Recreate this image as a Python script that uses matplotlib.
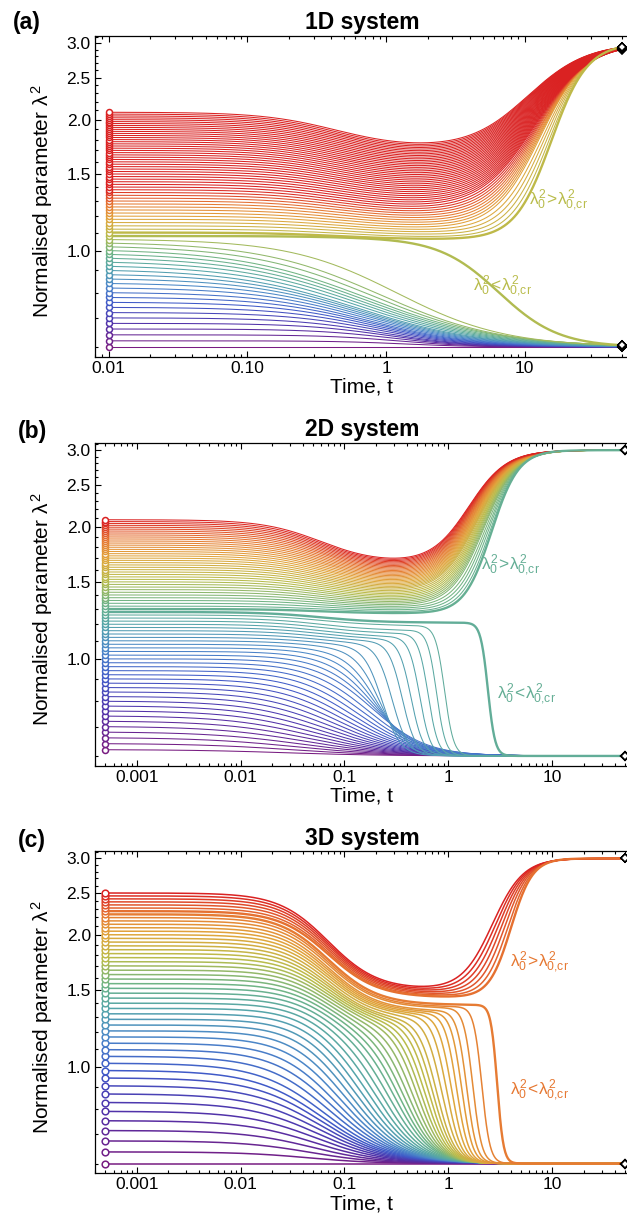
import numpy as np
import matplotlib
matplotlib.use('Agg')
import matplotlib.pyplot as plt
from matplotlib.colors import LinearSegmentedColormap, Normalize
from matplotlib.ticker import FixedLocator, FixedFormatter, NullFormatter

plt.rcParams['font.family'] = ['Liberation Sans', 'DejaVu Sans']
plt.rcParams['mathtext.fontset'] = 'custom'
plt.rcParams['mathtext.rm'] = 'Liberation Sans'
plt.rcParams['mathtext.it'] = 'Liberation Sans'
plt.rcParams['mathtext.bf'] = 'Liberation Sans:bold'

# rainbow colour scale used for the initial values
RAINBOW = ['#781c81', '#5032aa', '#405ac8', '#4b87c8', '#55a5aa', '#6eb487',
           '#b9bc4b', '#e1a53c', '#e67832', '#da2222']
RAINBOW_POS = [0.0, 0.1, 0.2, 0.3, 0.4, 0.5, 0.62, 0.75, 0.87, 1.0]
cmap = LinearSegmentedColormap.from_list('rb', list(zip(RAINBOW_POS, RAINBOW)))

T_END = 50.0
Y_HIGH = 3.0   # upper attractor
Y_LOW = 0.6    # lower attractor

# ---------------- (a) 1D system ----------------
T0_A = 0.01
Y0_A = [0.60, 0.62, 0.64, 0.66, 0.68, 0.70, 0.72, 0.74, 0.76, 0.78,
        0.80, 0.82, 0.84, 0.86, 0.88, 0.90, 0.92, 0.94, 0.96, 0.98,
        1.00, 1.02, 1.04, 1.06, 1.08, 1.10, 1.12, 1.14, 1.16, 1.18,
        1.20, 1.22, 1.24, 1.26, 1.28, 1.30, 1.32, 1.34, 1.36, 1.38,
        1.40, 1.42, 1.44, 1.46, 1.48, 1.50, 1.52, 1.54, 1.56, 1.58,
        1.60, 1.62, 1.64, 1.66, 1.68, 1.70, 1.72, 1.74, 1.76, 1.78,
        1.80, 1.82, 1.84, 1.86, 1.88, 1.90, 1.92, 1.94, 1.96, 1.98,
        2.00, 2.02, 2.04, 2.06, 2.08]
YCR_A = 1.09
CRANGE_A = (0.60, 1.39)
DIP_A = (0.45, 0.62)           # time and width of the early sag
UP_A_Y0 = [1.10, 1.20, 1.40, 2.08]
UP_A_YMID = [1.06, 1.12, 1.25, 1.71]
UP_A_TB = [15.5, 13.0, 11.8, 10.5]
UP_A_WB = [0.30, 0.38, 0.45, 0.49]
LO_A_Y0 = [0.60, 0.70, 0.80, 0.90, 1.00, 1.04, 1.06, 1.08]
LO_A_YMID = [0.60, 0.70, 0.80, 0.90, 1.00, 1.04, 1.06, 1.07]
LO_A_TB = [1.5, 0.9, 0.7, 0.62, 0.73, 0.9, 1.2, 6.5]
LO_A_WB = [0.55, 0.74, 0.9, 1.03, 1.08, 1.0, 0.9, 0.5]

# ---------------- (b) 2D system ----------------
T0_B = 5e-4
Y0_B = Y0_A[1:]
YCR_B = 1.29
CRANGE_B = (0.62, 2.08)
DIP_B = (0.06, 0.65)
UP_B_Y0 = [1.30, 1.40, 1.60, 2.08]
UP_B_YMID = [1.27, 1.32, 1.42, 1.65]
UP_B_TB = [2.6, 2.2, 1.9, 1.57]
UP_B_WB = [0.30, 0.36, 0.40, 0.42]
LO_B_Y0 = [0.62, 0.80, 1.00, 1.08, 1.12, 1.16, 1.20, 1.24, 1.26, 1.28]
LO_B_YMID = [0.62, 0.80, 0.97, 1.03, 1.06, 1.09, 1.12, 1.16, 1.19, 1.21]
LO_B_TB = [0.028, 0.067, 0.19, 0.21, 0.23, 0.36, 0.53, 0.77, 0.92, 2.4]
LO_B_WB = [1.1, 0.88, 0.6, 0.35, 0.2, 0.15, 0.12, 0.10, 0.10, 0.08]

# ---------------- (c) 3D system ----------------
T0_C = 5e-4
Y0_C = [0.600, 0.638, 0.676, 0.714, 0.752, 0.790, 0.828, 0.866, 0.904, 0.942,
        0.980, 1.018, 1.056, 1.094, 1.132, 1.170, 1.208, 1.246, 1.284, 1.322,
        1.360, 1.398, 1.436, 1.474, 1.512, 1.550, 1.588, 1.626, 1.664, 1.702,
        1.740, 1.778, 1.816, 1.854, 1.892, 1.930, 1.968, 2.006, 2.044, 2.082,
        2.120, 2.158, 2.196, 2.234, 2.272, 2.310, 2.348, 2.386, 2.424, 2.462,
        2.500]
YCR_C = 2.25
CRANGE_C = (0.60, 2.50)
DIP_C = (0.07, 0.55)
UP_C_Y0 = [2.272, 2.50]
UP_C_YMID = [1.44, 1.50]
UP_C_TB = [4.0, 2.66]
UP_C_WB = [0.24, 0.34]
LO_C_Y0 = [0.60, 0.80, 1.00, 1.20, 1.50, 1.70, 1.892, 1.968, 2.044, 2.12, 2.158, 2.196, 2.234]
LO_C_YMID = [0.60, 0.78, 0.93, 1.05, 1.15, 1.22, 1.27, 1.30, 1.32, 1.34, 1.36, 1.37, 1.385]
LO_C_TB = [0.04, 0.05, 0.06, 0.11, 0.30, 0.50, 0.77, 0.96, 1.2, 1.5, 1.72, 2.1, 2.95]
LO_C_WB = [0.75, 0.80, 0.80, 0.62, 0.40, 0.28, 0.20, 0.16, 0.13, 0.11, 0.10, 0.09, 0.07]

PANELS = [
    dict(tag='(a)', title='1D system', t0=T0_A, y0=Y0_A, ycr=YCR_A, crange=CRANGE_A, dip=DIP_A,
         up=(UP_A_Y0, UP_A_YMID, UP_A_TB, UP_A_WB), lo=(LO_A_Y0, LO_A_YMID, LO_A_TB, LO_A_WB),
         xlim=(0.00798, 56.4), xticks=[0.01, 0.1, 1, 10], xlabels=['0.01', '0.10', '1', '10'],
         lab_up=(17.5, 1.31), lab_lo=(6.9, 0.83), lw=0.75, ms=4.3, rect=(95, 35.7, 629, 356.7),
         tagx=13, tagy=28.5),
    dict(tag='(b)', title='2D system', t0=T0_B, y0=Y0_B, ycr=YCR_B, crange=CRANGE_B, dip=DIP_B,
         up=(UP_B_Y0, UP_B_YMID, UP_B_TB, UP_B_WB), lo=(LO_B_Y0, LO_B_YMID, LO_B_TB, LO_B_WB),
         xlim=(3.97e-4, 54.8), xticks=[0.001, 0.01, 0.1, 1, 10],
         xlabels=['0.001', '0.01', '0.1', '1', '10'],
         lab_up=(4.0, 1.64), lab_lo=(5.6, 0.83), lw=0.75, ms=4.3, rect=(95, 442.7, 629, 765.7),
         tagx=18, tagy=438),
    dict(tag='(c)', title='3D system', t0=T0_C, y0=Y0_C, ycr=YCR_C, crange=CRANGE_C, dip=DIP_C,
         up=(UP_C_Y0, UP_C_YMID, UP_C_TB, UP_C_WB), lo=(LO_C_Y0, LO_C_YMID, LO_C_TB, LO_C_WB),
         xlim=(3.97e-4, 54.8), xticks=[0.001, 0.01, 0.1, 1, 10],
         xlabels=['0.001', '0.01', '0.1', '1', '10'],
         lab_up=(7.6, 1.74), lab_lo=(7.6, 0.884), lw=1.1, ms=4.8, rect=(95, 851, 629, 1173.3),
         tagx=18, tagy=847),
]


def sig(L, c, w):
    return 1.0 / (1.0 + np.exp((L - c) / w))


def trajectory(t, y0, ymid, yend, ta, wa, tb, wb):
    L = np.log(t)
    a = sig(L, np.log(ta), wa) / sig(L[0], np.log(ta), wa)
    b = sig(L, np.log(tb), wb) / sig(L[0], np.log(tb), wb)
    u = np.log(yend) + (np.log(ymid) - np.log(yend)) * b + (np.log(y0) - np.log(ymid)) * a
    return np.exp(u)


W, H = 627, 1223
fig = plt.figure(figsize=(W / 100, H / 100), dpi=100)

for p in PANELS:
    x0, ytop, x1, ybot = p['rect']
    ax = fig.add_axes([x0 / W, 1 - ybot / H, (x1 - x0) / W, (ybot - ytop) / H])
    norm = Normalize(*p['crange'], clip=True)
    t = np.logspace(np.log10(p['t0']), np.log10(T_END), 800)
    y0s = np.array(p['y0'])
    below = y0s[y0s < p['ycr']]
    above = y0s[y0s > p['ycr']]
    crit = {below.max(), above.min()}
    ends = []
    for y0 in y0s:
        if y0 > p['ycr']:
            ya, ym, tb, wb = p['up']
            yend = Y_HIGH
        else:
            ya, ym, tb, wb = p['lo']
            yend = Y_LOW
        ymid = np.interp(y0, ya, ym)
        tbi = np.exp(np.interp(y0, ya, np.log(tb)))
        wbi = np.interp(y0, ya, wb)
        y = trajectory(t, y0, ymid, yend, p['dip'][0], p['dip'][1], tbi, wbi)
        c = cmap(norm(y0))
        thick = y0 in crit
        ax.plot(t, y, color=c, lw=1.7 if thick else p['lw'], zorder=3 if thick else 2,
                solid_capstyle='butt')
        ax.plot([t[0]], [y[0]], 'o', ms=p['ms'], mfc='white', mec=c, mew=1.1, zorder=5,
                clip_on=False)
        ends.append(y[-1])
    ax.plot([T_END] * len(ends), ends, 'D', ms=4.2, mfc='white', mec='black', mew=1.1,
            zorder=6, clip_on=False)

    ccol = cmap(norm(p['ycr']))
    ax.text(*p['lab_up'], r'$\lambda_0^2\!>\!\lambda_{0{,}\mathrm{cr}}^2$', color=ccol,
            fontsize=12.5, ha='center', va='center')
    ax.text(*p['lab_lo'], r'$\lambda_0^2\!<\!\lambda_{0{,}\mathrm{cr}}^2$', color=ccol,
            fontsize=12.5, ha='center', va='center')

    ax.set_xscale('log')
    ax.set_yscale('log')
    ax.set_xlim(*p['xlim'])
    ax.set_ylim(0.57, 3.12)
    ax.xaxis.set_major_locator(FixedLocator(p['xticks']))
    ax.xaxis.set_major_formatter(FixedFormatter(p['xlabels']))
    minors = [m * d for d in [1e-4, 1e-3, 1e-2, 1e-1, 1, 10] for m in range(2, 10)]
    ax.xaxis.set_minor_locator(FixedLocator(minors))
    ax.xaxis.set_minor_formatter(NullFormatter())
    ax.yaxis.set_major_locator(FixedLocator([1.0, 1.5, 2.0, 2.5, 3.0]))
    ax.yaxis.set_major_formatter(FixedFormatter(['1.0', '1.5', '2.0', '2.5', '3.0']))
    ymin = [0.6, 0.7, 0.8, 0.9] + [round(1.1 + 0.1 * k, 1) for k in range(21)]
    ax.yaxis.set_minor_locator(FixedLocator([v for v in ymin if v not in (1.5, 2.0, 2.5, 3.0)]))
    ax.yaxis.set_minor_formatter(NullFormatter())
    ax.tick_params(which='both', direction='in', top=True, right=False, width=0.8, labelsize=12.5)
    ax.tick_params(which='major', length=4)
    ax.tick_params(which='minor', length=2.2)
    ax.tick_params(axis='x', pad=3)
    ax.tick_params(axis='y', pad=3)
    for s in ['left', 'bottom', 'top']:
        ax.spines[s].set_linewidth(0.9)
    ax.spines['right'].set_visible(False)

    ax.set_xlabel('Time, t', fontsize=15, labelpad=1.5)
    ax.set_ylabel(r'Normalised parameter $\lambda^2$', fontsize=15)
    ax.yaxis.set_label_coords(-0.0758, 0.485)
    ax.set_title(p['title'], fontsize=16.5, fontweight='bold', pad=4.5)
    fig.text(p['tagx'] / W, 1 - p['tagy'] / H, p['tag'],
             fontsize=16.5, fontweight='bold', va='baseline', ha='left')

fig.savefig('out.png', dpi=100)
